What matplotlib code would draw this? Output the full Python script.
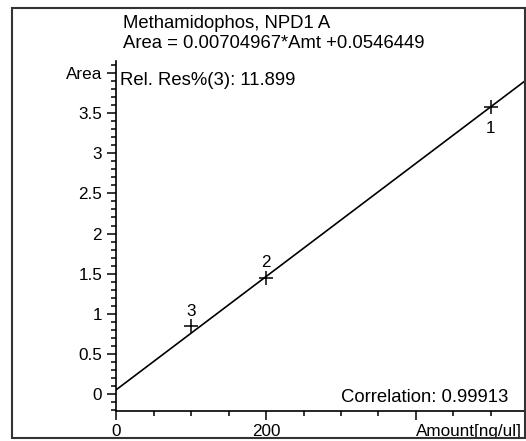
import numpy as np
import matplotlib.pyplot as plt
from matplotlib.patches import Rectangle

plt.rcParams['font.family'] = ['Liberation Sans', 'DejaVu Sans']

# calibration points
amounts = [500, 200, 100]
areas = [3.58, 1.445, 0.85]
point_ids = ['1', '2', '3']

# fit as printed
slope = 0.00704967
intercept = 0.0546449

xticks_major = [0, 200, 400]
xtick_labels = ['0', '200', 'Amount[ng/ul]']
yticks_major = [0, 0.5, 1, 1.5, 2, 2.5, 3, 3.5, 4]
ytick_labels = ['0', '0.5', '1', '1.5', '2', '2.5', '3', '3.5', 'Area']

W, H = 526, 441
fig = plt.figure(figsize=(W / 100, H / 100), dpi=100)

# axes box in pixels (left, bottom spine, right, top)
x0, yb, x1, yt = 116, 411, 525, 61
ax = fig.add_axes([x0 / W, (H - yb) / H, (x1 - x0) / W, (yb - yt) / H])
ax.set_xlim(0, (x1 - x0) / 0.75)
ax.set_ylim(-(yb - 394.3) / 80.37, (394.3 - yt) / 80.37)

xx = np.array(ax.get_xlim())
ax.plot(xx, slope * xx + intercept, color='black', lw=1.2)
ax.plot(amounts, areas, ls='none', marker='+', ms=10, mew=1.1, color='black')

for a, v, lab in zip(amounts, areas, point_ids):
    if lab == '1':
        off = (0, -26)
    elif lab == '2':
        off = (0, 11)
    else:
        off = (0, 10)
    ax.annotate(lab, (a, v), xytext=off, textcoords='offset pixels',
                ha='center', va='baseline', fontsize=12.3)

ax.spines['top'].set_visible(False)
ax.spines['right'].set_visible(False)
ax.spines['left'].set_linewidth(1.2)
ax.spines['bottom'].set_linewidth(1.2)

ax.set_xticks(xticks_major)
ax.set_xticklabels(xtick_labels)
ax.set_xticks(np.arange(0, 550, 50), minor=True)
ax.set_yticks(yticks_major)
ax.set_yticklabels(ytick_labels)
ax.set_yticks(np.arange(-0.2, 4.15, 0.1), minor=True)
ax.get_xticklabels()[2].set_ha('left')

ax.tick_params(which='major', length=6.5, width=1.1, labelsize=12.3, direction='out')
ax.tick_params(which='minor', length=3.5, width=1.1, direction='out')
ax.tick_params(axis='x', which='major', pad=3)
ax.tick_params(axis='y', which='major', pad=3.5)

def fig_text(x, y, s, **kw):
    fig.text(x / W, 1 - y / H, s, va='baseline', fontsize=13.3, **kw)

fig_text(122.7, 28.3, 'Methamidophos, NPD1 A')
fig_text(122.7, 48.3, 'Area = 0.00704967*Amt +0.0546449')
fig_text(119.5, 85, 'Rel. Res%(3): 11.899')
fig_text(508, 402.3, 'Correlation: 0.99913', ha='right')

frame = Rectangle((12 / W, 1 - 438 / H), (525 - 12) / W, (438 - 8) / H,
                  transform=fig.transFigure, fill=False, edgecolor='#333333',
                  lw=1.5, zorder=10)
fig.add_artist(frame)

fig.savefig('out.png', dpi=100)
